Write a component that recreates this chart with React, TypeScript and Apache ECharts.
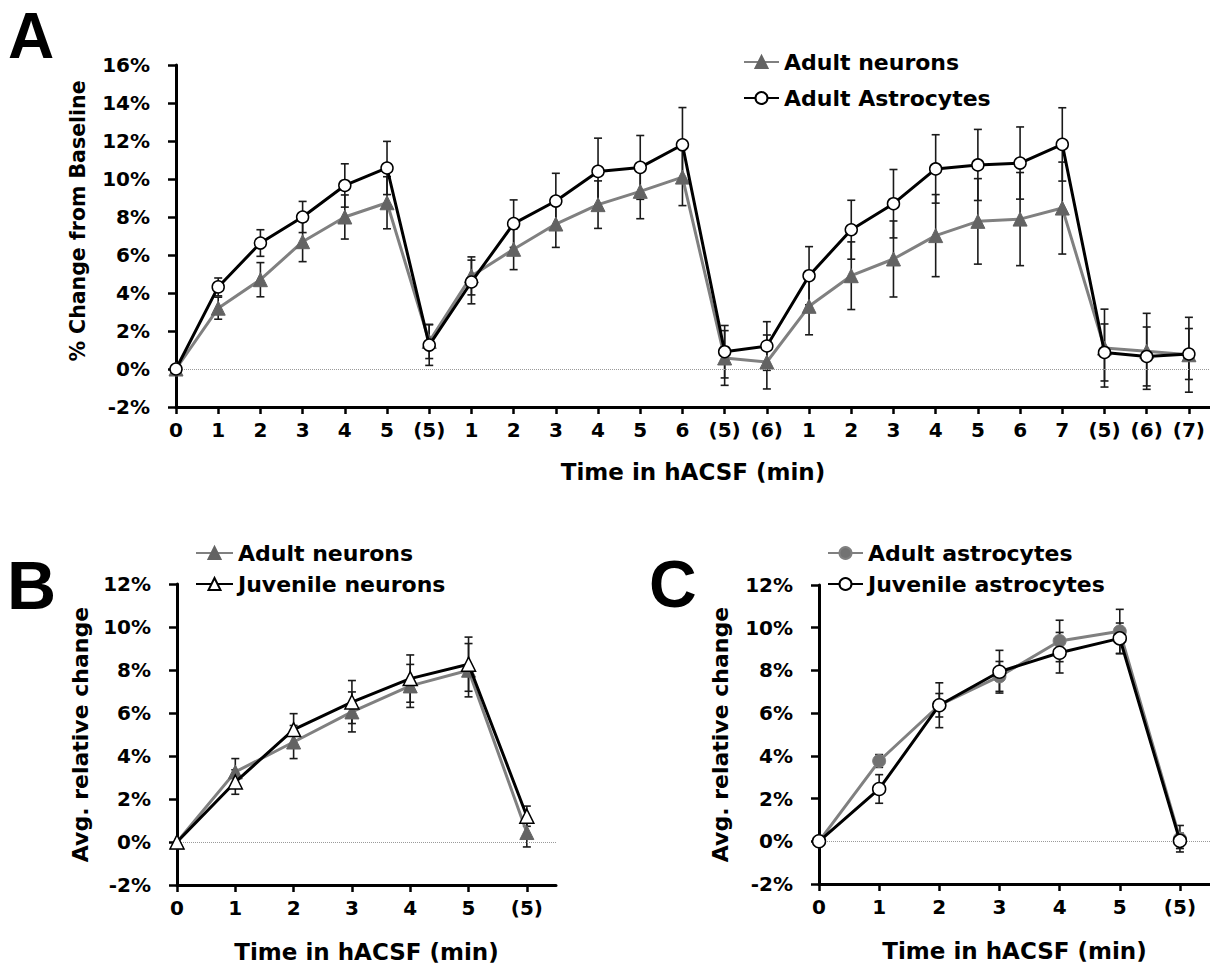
import React, { useEffect, useRef } from 'react';
import * as echarts from 'echarts';

// ---------- Panel A ----------
const labelsA = ['0', '1', '2', '3', '4', '5', '(5)', '1', '2', '3', '4', '5', '6', '(5)', '(6)', '1', '2', '3', '4', '5', '6', '7', '(5)', '(6)', '(7)'];
const neuronsA = [0, 3.2, 4.7, 6.7, 8.0, 8.75, 1.45, 4.9, 6.3, 7.63, 8.65, 9.35, 10.1, 0.58, 0.37, 3.3, 4.91, 5.79, 7.02, 7.77, 7.89, 8.47, 1.1, 0.93, 0.75];
const neuronsErrA = [0, 0.58, 0.9, 1.05, 1.16, 1.37, 0.9, 1.0, 1.07, 1.23, 1.25, 1.44, 1.5, 1.44, 1.42, 1.5, 1.78, 2.0, 2.16, 2.25, 2.45, 2.42, 2.05, 2.0, 1.97];
const astroA = [0, 4.32, 6.63, 8.0, 9.66, 10.58, 1.26, 4.58, 7.65, 8.84, 10.4, 10.61, 11.8, 0.91, 1.21, 4.91, 7.33, 8.7, 10.53, 10.74, 10.84, 11.82, 0.87, 0.66, 0.79];
const astroErrA = [0, 0.47, 0.7, 0.82, 1.14, 1.4, 1.07, 1.15, 1.25, 1.46, 1.75, 1.68, 1.96, 1.38, 1.28, 1.53, 1.55, 1.8, 1.8, 1.87, 1.9, 1.93, 1.5, 1.55, 1.34];

// ---------- Panels B & C ----------
const labelsBC = ['0', '1', '2', '3', '4', '5', '(5)'];
const adultNeuronsB = [0, 3.26, 4.65, 6.05, 7.26, 7.99, 0.44];
const adultNeuronsErrB = [0, 0.62, 0.77, 0.93, 1.0, 1.24, 0.67];
const juvNeuronsB = [0, 2.79, 5.23, 6.51, 7.6, 8.27, 1.2];
const juvNeuronsErrB = [0, 0.57, 0.74, 1.0, 1.1, 1.26, 0.47];

const adultAstroC = [0, 3.76, 6.37, 7.72, 9.38, 9.83, 0.12];
const adultAstroErrC = [0, 0.3, 0.55, 0.7, 0.97, 1.03, 0.62];
const juvAstroC = [0, 2.45, 6.37, 7.94, 8.83, 9.5, 0.02];
const juvAstroErrC = [0, 0.67, 1.05, 1.0, 0.95, 0.72, 0.36];

const FONT = '"DejaVu Sans", sans-serif';
const LETTER_FONT = '"Liberation Sans", Arial, sans-serif';

function errData(vals: number[], errs: number[]) {
  const out: number[][] = [];
  vals.forEach((v, i) => {
    if (errs[i] > 0) out.push([i, v - errs[i], v + errs[i]]);
  });
  return out;
}

function errSeries(idx: number, vals: number[], errs: number[]) {
  return {
    type: 'custom',
    xAxisIndex: idx,
    yAxisIndex: idx,
    silent: true,
    z: 3,
    encode: { x: 0, y: [1, 2] },
    data: errData(vals, errs),
    renderItem: (params: any, api: any) => {
      const x = api.value(0);
      const lo = api.coord([x, api.value(1)]);
      const hi = api.coord([x, api.value(2)]);
      const w = 4;
      const st = { stroke: '#1a1a1a', lineWidth: 1.6 };
      return {
        type: 'group',
        children: [
          { type: 'line', shape: { x1: lo[0], y1: lo[1], x2: hi[0], y2: hi[1] }, style: st },
          { type: 'line', shape: { x1: lo[0] - w, y1: lo[1], x2: lo[0] + w, y2: lo[1] }, style: st },
          { type: 'line', shape: { x1: hi[0] - w, y1: hi[1], x2: hi[0] + w, y2: hi[1] }, style: st },
        ],
      };
    },
  };
}

function lineSeries(idx: number, name: string, vals: number[], kind: 'grayTri' | 'whiteTri' | 'grayCircle' | 'whiteCircle', size: number, withZero: boolean) {
  const gray = kind === 'grayTri' || kind === 'grayCircle';
  const tri = kind === 'grayTri' || kind === 'whiteTri';
  const s: any = {
    type: 'line',
    name,
    xAxisIndex: idx,
    yAxisIndex: idx,
    data: vals.map((v, i) => [i, v]),
    symbol: tri ? 'triangle' : 'circle',
    symbolSize: size,
    showAllSymbol: true,
    z: gray ? 4 : 5,
    lineStyle: { color: gray ? '#808080' : '#000', width: 3 },
    itemStyle: gray
      ? { color: kind === 'grayTri' ? '#636363' : '#727272', borderColor: kind === 'grayTri' ? '#636363' : '#808080', borderWidth: 1 }
      : { color: '#fff', borderColor: '#000', borderWidth: 1.5 },
    emphasis: { disabled: true },
  };
  if (withZero) {
    s.markLine = {
      silent: true,
      symbol: ['none', 'none'],
      label: { show: false },
      lineStyle: { color: '#9a9a9a', type: 'dotted', width: 1 },
      data: [{ yAxis: 0 }],
    };
  }
  return s;
}

function makeX(idx: number, labels: string[], nameGap: number) {
  const ticks = labels.map((_, i) => i);
  return {
    type: 'value',
    gridIndex: idx,
    min: 0,
    max: labels.length - 0.5,
    interval: 1,
    name: 'Time in hACSF (min)',
    nameLocation: 'middle',
    nameGap,
    nameTextStyle: { fontFamily: FONT, fontWeight: 'bold', fontSize: 23, color: '#000' },
    axisLine: { show: true, onZero: false, lineStyle: { color: '#000', width: 3 } },
    axisTick: { show: true, inside: false, length: 7, lineStyle: { color: '#000', width: 2.5 }, customValues: ticks },
    axisLabel: {
      show: true,
      customValues: ticks,
      margin: 13,
      fontFamily: FONT,
      fontWeight: 'bold',
      fontSize: 20,
      color: '#000',
      formatter: (v: number) => (Number.isInteger(v) ? labels[v] ?? '' : ''),
    },
    splitLine: { show: false },
  };
}

function makeY(idx: number, max: number, name: string, nameGap: number, nameSize: number, padding: number[]) {
  return {
    type: 'value',
    gridIndex: idx,
    min: -2,
    max,
    interval: 2,
    name,
    nameLocation: 'middle',
    nameGap,
    nameTextStyle: { fontFamily: FONT, fontWeight: 'bold', fontSize: nameSize, color: '#000', padding },
    axisLine: { show: true, onZero: false, lineStyle: { color: '#000', width: 3 } },
    axisTick: { show: true, inside: false, length: 8, lineStyle: { color: '#000', width: 2.5 } },
    axisLabel: { margin: 26, fontFamily: FONT, fontWeight: 'bold', fontSize: 20, color: '#000', formatter: '{value}%' },
    splitLine: { show: false },
  };
}

function makeLegend(names: string[], left: number, top: number, itemWidth: number, itemGap: number) {
  return {
    orient: 'vertical',
    left,
    top,
    padding: 0,
    itemWidth,
    itemHeight: 15,
    itemGap,
    selectedMode: false,
    data: names,
    textStyle: { fontFamily: FONT, fontWeight: 'bold', fontSize: 22, color: '#000' },
  };
}

export default function App() {
  const ref = useRef<HTMLDivElement>(null);
  useEffect(() => {
    const chart = echarts.init(ref.current!, null, { renderer: 'svg' });
    const option: any = {
      animation: false,
      backgroundColor: '#fff',
      grid: [
        { left: 176, right: 0, top: 65, bottom: 563, outerBoundsMode: 'none' },
        { left: 177, right: 654, top: 584, bottom: 85, outerBoundsMode: 'none' },
        { left: 819, right: 0, top: 585, bottom: 86, outerBoundsMode: 'none' },
      ],
      xAxis: [makeX(0, labelsA, 53), makeX(1, labelsBC, 55), makeX(2, labelsBC, 55)],
      yAxis: [
        makeY(0, 16, '% Change from Baseline', 88, 20.5, [0, 0, 0, 30]),
        makeY(1, 12, 'Avg. relative change', 86, 22, [0, 0, 0, 0]),
        makeY(2, 12, 'Avg. relative change', 88, 22, [0, 0, 0, 0]),
      ],
      legend: [
        makeLegend(['Adult neurons', 'Adult Astrocytes'], 743, 51, 35, 14),
        makeLegend(['Adult neurons', 'Juvenile neurons'], 195, 542, 37, 9),
        makeLegend(['Adult astrocytes', 'Juvenile astrocytes'], 827, 542, 35, 9),
      ],
      graphic: [
        { type: 'text', x: 8, y: 36, style: { text: 'A', fontFamily: LETTER_FONT, fontWeight: 'bold', fontSize: 64, lineHeight: 56, fill: '#000', textVerticalAlign: 'middle', verticalAlign: 'middle' } },
        { type: 'text', x: 7, y: 585, style: { text: 'B', fontFamily: LETTER_FONT, fontWeight: 'bold', fontSize: 68, lineHeight: 60, fill: '#000', textVerticalAlign: 'middle', verticalAlign: 'middle' } },
        { type: 'text', x: 649, y: 584, style: { text: 'C', fontFamily: LETTER_FONT, fontWeight: 'bold', fontSize: 66, lineHeight: 58, fill: '#000', textVerticalAlign: 'middle', verticalAlign: 'middle' } },
      ],
      series: [
        errSeries(0, neuronsA, neuronsErrA),
        errSeries(0, astroA, astroErrA),
        lineSeries(0, 'Adult neurons', neuronsA, 'grayTri', 14, true),
        lineSeries(0, 'Adult Astrocytes', astroA, 'whiteCircle', 12, false),

        errSeries(1, adultNeuronsB, adultNeuronsErrB),
        errSeries(1, juvNeuronsB, juvNeuronsErrB),
        lineSeries(1, 'Adult neurons', adultNeuronsB, 'grayTri', 14, true),
        lineSeries(1, 'Juvenile neurons', juvNeuronsB, 'whiteTri', 14, false),

        errSeries(2, adultAstroC, adultAstroErrC),
        errSeries(2, juvAstroC, juvAstroErrC),
        lineSeries(2, 'Adult astrocytes', adultAstroC, 'grayCircle', 13, true),
        lineSeries(2, 'Juvenile astrocytes', juvAstroC, 'whiteCircle', 13, false),
      ],
    };
    chart.setOption(option);
    return () => chart.dispose();
  }, []);
  return <div ref={ref} style={{ position: 'absolute', left: 0, top: 0, width: 1210, height: 970, background: '#fff' }} />;
}
